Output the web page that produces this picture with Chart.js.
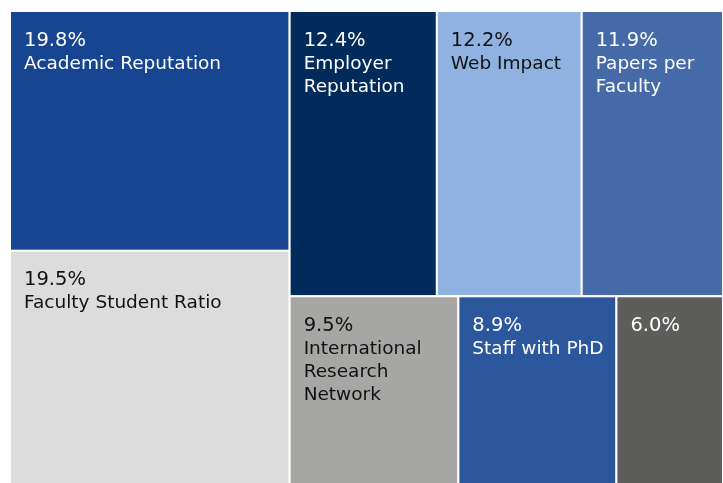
<!DOCTYPE html>
<html>
<head>
<meta charset="utf-8">
<title>Ranking indicators treemap</title>
<script src="https://cdn.jsdelivr.net/npm/chart.js@4.4.1/dist/chart.umd.min.js"></script>
<style>
  html, body { margin: 0; padding: 0; background: #ffffff; overflow: hidden; }
  #wrap { width: 723px; height: 488px; position: relative; }
</style>
</head>
<body>
<div id="wrap"><canvas id="treeChart"></canvas></div>
<script>
// ===================================
// DATA
// ===================================
const LABELS = ['Academic Reputation', 'Faculty Student Ratio', 'Employer Reputation', 'Web Impact',
                'Papers per Faculty', 'International Research Network', 'Staff with PhD', ''];
const VALUES = [19.8, 19.5, 12.4, 12.2, 11.9, 9.5, 8.9, 6.0];
const COLORS = ['#174591', '#dcdcdc', '#002b5a', '#8fb2e1', '#466aa8', '#a6a6a4', '#2d579c', '#5d5d5b'];
const TEXT_COLORS = ['#ffffff', '#111111', '#ffffff', '#111111', '#ffffff', '#111111', '#ffffff', '#ffffff'];

const PCT_FONT = '19.5px "DejaVu Sans"';
const LABEL_FONT = '18.5px "DejaVu Sans"';
const LINE_H = 23;
const PAD_X = 14;

// ===================================
// Squarified layout (golden ratio, like d3)
// Works in data units of the x / y scales
// ===================================
function squarify(values, x0, y0, x1, y1, aspect) {
    const ratio = (1 + Math.sqrt(5)) / 2;
    const rects = [];
    let value = values.reduce((a, b) => a + b, 0);
    let i0 = 0, i1 = 0;
    const n = values.length;
    while (i0 < n) {
        const dx = (x1 - x0) * aspect, dy = y1 - y0;
        let sum = values[i1++];
        let minV = sum, maxV = sum;
        const alpha = Math.max(dy / dx, dx / dy) / (value * ratio);
        let beta = sum * sum * alpha;
        let minRatio = Math.max(maxV / beta, beta / minV);
        for (; i1 < n; ++i1) {
            const v = values[i1];
            sum += v;
            if (v < minV) minV = v;
            if (v > maxV) maxV = v;
            beta = sum * sum * alpha;
            const newRatio = Math.max(maxV / beta, beta / minV);
            if (newRatio > minRatio) { sum -= v; break; }
            minRatio = newRatio;
        }
        const dice = dx < dy;
        if (dice) {
            // row across the top, cells side by side
            const ny = y0 + (y1 - y0) * sum / value;
            let cx = x0;
            for (let i = i0; i < i1; i++) {
                const w = (x1 - x0) * values[i] / sum;
                rects[i] = { x0: cx, y0: y0, x1: cx + w, y1: ny };
                cx += w;
            }
            y0 = ny;
        } else {
            // column on the left, cells stacked
            const nx = x0 + (x1 - x0) * sum / value;
            let cy = y0;
            for (let i = i0; i < i1; i++) {
                const h = (y1 - y0) * values[i] / sum;
                rects[i] = { x0: x0, y0: cy, x1: nx, y1: cy + h };
                cy += h;
            }
            x0 = nx;
        }
        value -= sum;
        i0 = i1;
    }
    return rects;
}

function wrapWords(ctx, text, maxW) {
    if (!text) return [];
    const words = text.split(' ');
    const lines = [];
    let cur = '';
    words.forEach(w => {
        const test = cur ? cur + ' ' + w : w;
        if (ctx.measureText(test).width <= maxW || !cur) cur = test;
        else { lines.push(cur); cur = w; }
    });
    if (cur) lines.push(cur);
    return lines;
}

// ===================================
// Plugin that draws the treemap cells
// ===================================
const treemapPlugin = {
    id: 'treemapCells',
    afterDatasetsDraw(chart) {
        const ctx = chart.ctx;
        const xs = chart.scales.x, ys = chart.scales.y;
        const area = chart.chartArea;
        const aspect = (area.right - area.left) / (area.bottom - area.top);
        const rects = squarify(VALUES, 0, 0, 1, 1, aspect);

        ctx.save();
        rects.forEach((r, i) => {
            const left = xs.getPixelForValue(r.x0);
            const right = xs.getPixelForValue(r.x1);
            const top = ys.getPixelForValue(r.y0);
            const bottom = ys.getPixelForValue(r.y1);

            ctx.fillStyle = COLORS[i];
            ctx.fillRect(left, top, right - left, bottom - top);
            ctx.strokeStyle = '#ffffff';
            ctx.lineWidth = 2;
            ctx.strokeRect(left, top, right - left, bottom - top);

            ctx.fillStyle = TEXT_COLORS[i];
            ctx.textAlign = 'left';
            ctx.textBaseline = 'alphabetic';
            const tx = left + PAD_X;
            let ty = top + 34.5;
            ctx.font = PCT_FONT;
            ctx.fillText(VALUES[i].toFixed(1) + '%', tx, ty);
            ctx.font = LABEL_FONT;
            const lines = wrapWords(ctx, LABELS[i], right - left - PAD_X - 2);
            lines.forEach(line => {
                ty += LINE_H;
                ctx.fillText(line, tx, ty);
            });
        });
        ctx.restore();
    }
};

function initTreemap() {
    const ctx = document.getElementById('treeChart').getContext('2d');
    new Chart(ctx, {
        type: 'scatter',
        data: { datasets: [{ data: [] }] },
        options: {
            responsive: true,
            maintainAspectRatio: false,
            animation: false,
            layout: { padding: { left: 10, top: 11, right: 0, bottom: 1 } },
            plugins: { legend: { display: false }, tooltip: { enabled: false } },
            scales: {
                x: { type: 'linear', min: 0, max: 1, display: false },
                y: { type: 'linear', min: 0, max: 1, reverse: true, display: false }
            }
        },
        plugins: [treemapPlugin]
    });
}

initTreemap();
</script>
</body>
</html>
